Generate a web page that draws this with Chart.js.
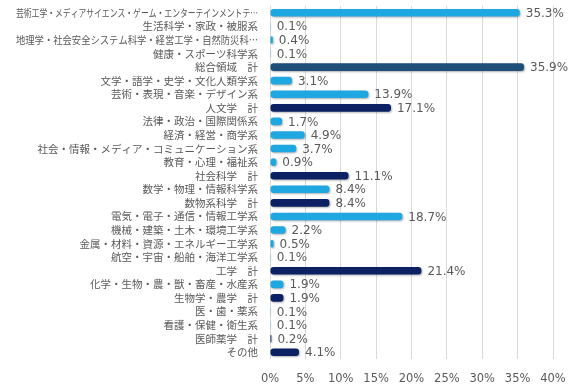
<!DOCTYPE html>
<html>
<head>
<meta charset="utf-8">
<script src="https://cdn.jsdelivr.net/npm/chart.js@4"></script>
<style>
    html, body { margin: 0; padding: 0; background: #ffffff; }
    #wrap { width: 586px; height: 392px; }
</style>
</head>
<body>
<div id="wrap"><canvas id="barChart" width="586" height="392"></canvas></div>
<script>

// categories (top to bottom)
const categories = [
    "芸術工学・メディアサイエンス・ゲーム・エンターテインメントテ…",
    "生活科学・家政・被服系",
    "地理学・社会安全システム科学・経営工学・自然防災科…",
    "健康・スポーツ科学系",
    "総合領域　計",
    "文学・語学・史学・文化人類学系",
    "芸術・表現・音楽・デザイン系",
    "人文学　計",
    "法律・政治・国際関係系",
    "経済・経営・商学系",
    "社会・情報・メディア・コミュニケーション系",
    "教育・心理・福祉系",
    "社会科学　計",
    "数学・物理・情報科学系",
    "数物系科学　計",
    "電気・電子・通信・情報工学系",
    "機械・建築・土木・環境工学系",
    "金属・材料・資源・エネルギー工学系",
    "航空・宇宙・船舶・海洋工学系",
    "工学　計",
    "化学・生物・農・獣・畜産・水産系",
    "生物学・農学　計",
    "医・歯・薬系",
    "看護・保健・衛生系",
    "医師薬学　計",
    "その他"
];

// share (%)
const shares = [
    35.3, 0.1, 0.4, 0.1, 35.9,
    3.1, 13.9, 17.1,
    1.7, 4.9, 3.7, 0.9, 11.1,
    8.4, 8.4,
    18.7, 2.2, 0.5, 0.1, 21.4,
    1.9, 1.9,
    0.1, 0.1, 0.2,
    4.1
];

const xTicks = [0, 5, 10, 15, 20, 25, 30, 35, 40];

const LIGHT = "#1ea7e1";
const MID = "#1f4e79";
const DARK = "#0b2163";

function barColor(label) {
    if (label === "総合領域　計") return MID;
    if (label.endsWith("計") || label === "その他") return DARK;
    return LIGHT;
}

const TEXT = "#595959";
const LABEL_FONT = '10.5px "Noto Sans CJK JP", sans-serif';
const VALUE_FONT = '12px "DejaVu Sans", sans-serif';

// category labels, drawn right aligned and squeezed if too long
const categoryLabels = {
    id: "categoryLabels",
    afterDraw(chart) {
        const ctx = chart.ctx;
        const yScale = chart.scales.y;
        const right = chart.chartArea.left - 12;
        ctx.save();
        ctx.font = LABEL_FONT;
        ctx.fillStyle = TEXT;
        ctx.textAlign = "right";
        ctx.textBaseline = "middle";
        categories.forEach((label, i) => {
            const y = yScale.getPixelForValue(i);
            ctx.fillText(label, right, y, right - 16);
        });
        ctx.restore();
    }
};

// value labels after the bar ends
const valueLabels = {
    id: "valueLabels",
    afterDatasetsDraw(chart) {
        const ctx = chart.ctx;
        const meta = chart.getDatasetMeta(0);
        ctx.save();
        ctx.font = VALUE_FONT;
        ctx.fillStyle = TEXT;
        ctx.textAlign = "left";
        ctx.textBaseline = "middle";
        meta.data.forEach((bar, i) => {
            ctx.fillText(shares[i].toFixed(1) + "%", bar.x + 6, bar.y + 1);
        });
        ctx.restore();
    }
};

// soft shadow under the bars
const barShadow = {
    id: "barShadow",
    beforeDatasetsDraw(chart) {
        const ctx = chart.ctx;
        ctx.save();
        ctx.shadowColor = "rgba(0, 0, 0, 0.3)";
        ctx.shadowBlur = 2;
        ctx.shadowOffsetX = 1;
        ctx.shadowOffsetY = 1;
    },
    afterDatasetsDraw(chart) {
        chart.ctx.restore();
    }
};

const ctx = document.getElementById("barChart").getContext("2d");

new Chart(ctx, {

    type: "bar",

    data: {
        labels: categories,
        datasets: [{
            data: shares,
            backgroundColor: categories.map(barColor),
            borderWidth: 0,
            borderRadius: 3,
            borderSkipped: false,
            barPercentage: 0.56,
            categoryPercentage: 1
        }]
    },

    options: {
        indexAxis: "y",
        responsive: false,
        animation: false,
        devicePixelRatio: 1,
        layout: {
            padding: { left: 0, right: 33, top: 6, bottom: 0 }
        },
        plugins: {
            legend: { display: false },
            tooltip: { enabled: false }
        },
        scales: {
            x: {
                min: 0,
                max: 40,
                afterBuildTicks(scale) {
                    scale.ticks = xTicks.map(v => ({ value: v }));
                },
                afterFit(scale) {
                    scale.height = 33;
                },
                ticks: {
                    padding: 13,
                    color: TEXT,
                    font: { family: '"DejaVu Sans", sans-serif', size: 11.5 },
                    callback: v => v + "%"
                },
                grid: {
                    color: "#d9d9d9",
                    drawTicks: false
                },
                border: { display: false }
            },
            y: {
                afterFit(scale) {
                    scale.width = 270;
                },
                ticks: { display: false },
                grid: { display: false },
                border: { display: false }
            }
        }
    },

    plugins: [barShadow, valueLabels, categoryLabels]

});

</script>
</body>
</html>
